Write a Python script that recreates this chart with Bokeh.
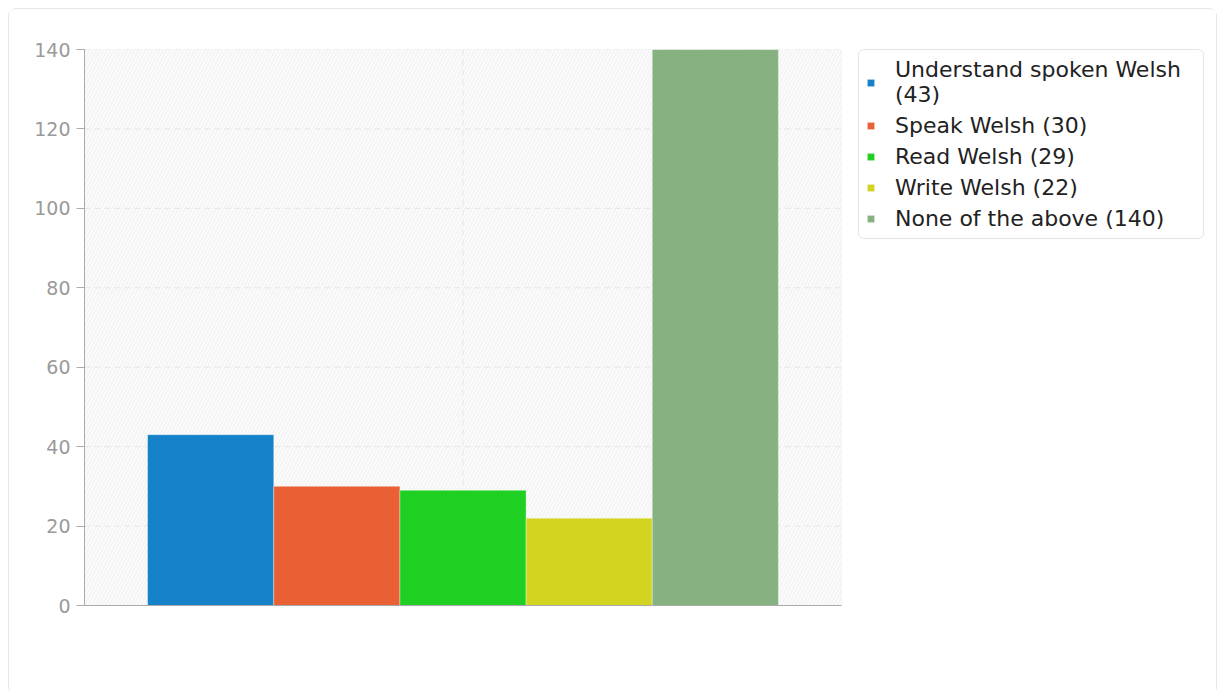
from bokeh.plotting import figure
from bokeh.models import (ColumnDataSource, Range1d, FixedTicker, BoxAnnotation,
                          Legend, LegendItem)
from bokeh.embed import file_html
from bokeh.resources import INLINE

categories = ["Understand spoken Welsh", "Speak Welsh", "Read Welsh", "Write Welsh", "None of the above"]
values = [43, 30, 29, 22, 140]
colors = ["#1481c8", "#e86034", "#1fcf22", "#d3d41f", "#86b281"]
y_ticks = [0, 20, 40, 60, 80, 100, 120, 140]
x_grid = [0.5]

n = len(categories)
group_pad = 1 / 12
bw = (1 - 2 * group_pad) / n
lefts = [group_pad + i * bw for i in range(n)]
rights = [l + bw for l in lefts]
labels = [f"{c} ({v})" for c, v in zip(categories, values)]
labels[0] = labels[0].replace(" (", "\n(")

src = ColumnDataSource(dict(left=lefts, right=rights, top=values, bottom=[0] * n,
                            color=colors, label=labels))

FRAME_W = 1125      # whole drawing frame (plot area + legend area)
PLOT_W = 757        # pixel width of the actual plot area
FRAME_H = 556
y_max = 140

p = figure(frame_width=FRAME_W, frame_height=FRAME_H, output_backend="svg", toolbar_location=None,
           x_range=Range1d(0, FRAME_W / PLOT_W), y_range=Range1d(0, y_max),
           min_border_left=75, min_border_top=40, min_border_right=7, min_border_bottom=89)
p.styles = {"border": "1px solid #e6e6e6", "border-radius": "8px", "margin": "8px 0 0 8px"}
p.outline_line_color = None
p.xgrid.visible = False
p.ygrid.visible = False

# hatched plot background and plot border
bg = BoxAnnotation(left=0, right=1, fill_color="#fbfbfb", fill_alpha=1, hatch_pattern="/",
                   hatch_color="#efefef", hatch_scale=7, hatch_weight=1, line_alpha=0, level="image")
p.add_layout(bg)
border = BoxAnnotation(left=0, right=1, bottom=0, top=y_max, fill_alpha=0,
                       line_color="#e2e2e2", line_width=1, level="underlay")
p.add_layout(border)

# dashed grid lines
p.segment(x0=[0] * len(y_ticks), x1=[1] * len(y_ticks), y0=y_ticks, y1=y_ticks,
          line_color="#e6e6e6", line_dash="6 4", line_width=1, level="underlay")
p.segment(x0=x_grid, x1=x_grid, y0=[0] * len(x_grid), y1=[y_max] * len(x_grid),
          line_color="#e6e6e6", line_dash="6 4", line_width=1, level="underlay")

p.yaxis.ticker = FixedTicker(ticks=y_ticks)
p.yaxis.minor_tick_line_color = None
p.yaxis.major_tick_in = 0
p.yaxis.major_tick_out = 8
p.yaxis.axis_line_color = "#aaaaaa"
p.yaxis.major_tick_line_color = "#aaaaaa"
p.yaxis.major_label_text_color = "#9a9a9a"
p.yaxis.major_label_text_font = "DejaVu Sans"
p.yaxis.major_label_text_font_size = "19px"
p.yaxis.major_label_standoff = 6

p.xaxis.ticker = FixedTicker(ticks=[])
p.xaxis.bounds = (0, 1)
p.xaxis.major_label_text_font_size = "0px"
p.xaxis.major_tick_line_color = None
p.xaxis.minor_tick_line_color = None
p.xaxis.axis_line_color = "#aaaaaa"

r = p.quad(left="left", right="right", top="top", bottom="bottom", source=src,
           fill_color="color", line_color="white", line_alpha=0.35, line_width=1)

items = [LegendItem(label=labels[i], renderers=[r], index=i) for i in range(n)]
legend = Legend(items=items, location=(774, 366), orientation="vertical", margin=0)
legend.label_text_font = "DejaVu Sans"
legend.label_text_font_size = "22px"
legend.label_text_color = "#222222"
legend.glyph_width = 9
legend.glyph_height = 9
legend.spacing = 6
legend.padding = 7
legend.label_standoff = 20
legend.label_width = 301
legend.border_line_color = "#e4e4e4"
legend.border_line_alpha = 1
legend.background_fill_color = "white"
legend.border_radius = 6
p.add_layout(legend, "center")

open("out.html", "w").write(file_html(p, INLINE))
